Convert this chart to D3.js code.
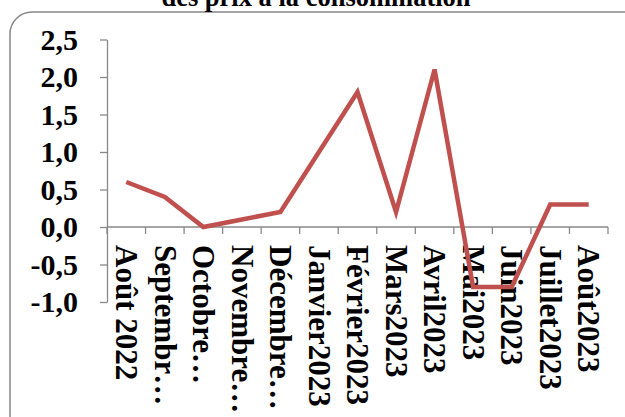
<!DOCTYPE html>
<html><head><meta charset="utf-8">
<script src="https://cdn.jsdelivr.net/npm/d3@7"></script>
<style>body{margin:0;background:#fff}svg{display:block}</style>
</head><body>
<script>
const categories = ["Août 2022","Septembr…","Octobre…","Novembre…","Décembre…","Janvier2023","Février2023","Mars2023","Avril2023","Mai2023","Juin2023","Juillet2023","Août2023"];
const values = [0.6,0.4,0.0,0.1,0.2,1.0,1.8,0.2,2.1,-0.8,-0.8,0.3,0.3];
const yTicks = [-1.0,-0.5,0.0,0.5,1.0,1.5,2.0,2.5];
const titleText = "des prix à la consommation";

(function(){
const W=625,H=417;
const svg=d3.select("body").append("svg").attr("width",W).attr("height",H);
const font="'Liberation Serif','Times New Roman',serif";

svg.append("rect").attr("x",10).attr("y",12).attr("width",660).attr("height",450)
  .attr("rx",22).attr("fill","none").attr("stroke","#888").attr("stroke-width",1.5);

svg.append("text").attr("x",316).attr("y",5.5).attr("text-anchor","middle")
  .attr("font-family",font).attr("font-weight","bold").attr("font-size",26.5).text(titleText);

const pL=107,pR=608,pT=39.5,pB=302;
const x=d3.scaleBand().domain(categories).range([pL,pR]);
const y=d3.scaleLinear().domain([-1,2.5]).range([pB,pT]);

// y axis
const ya=svg.append("g").attr("transform",`translate(${pL},0)`)
  .call(d3.axisLeft(y).tickValues(yTicks).tickSize(7).tickSizeOuter(0).tickPadding(22)
    .tickFormat(d=>d3.format(".1f")(d).replace(".",",").replace("−","-")));
ya.selectAll("path,line").attr("stroke","#888").attr("stroke-width",1.3);
ya.selectAll("text").attr("font-family",font).attr("font-weight","bold").attr("font-size",30).attr("fill","#000");

// x axis at y=0
const xa=svg.append("g").attr("transform",`translate(0,${y(0)})`);
xa.append("line").attr("x1",pL).attr("x2",pR).attr("stroke","#888").attr("stroke-width",1.3);
const bounds=categories.map(c=>x(c)).concat([pR]);
xa.selectAll("line.t").data(bounds).join("line").attr("class","t")
  .attr("x1",d=>d).attr("x2",d=>d).attr("y1",0).attr("y2",7).attr("stroke","#888").attr("stroke-width",1.3);
xa.selectAll("text").data(categories).join("text")
  .attr("transform",d=>`translate(${x(d)+x.bandwidth()/2},${18}) rotate(90)`)
  .attr("dy","0.33em").attr("text-anchor","start")
  .attr("font-family",font).attr("font-weight","bold").attr("font-size",31).attr("fill","#000")
  .text(d=>d);

// line
const line=d3.line().x((d,i)=>x(categories[i])+x.bandwidth()/2).y(d=>y(d));
svg.append("path").datum(values).attr("d",line).attr("fill","none")
  .attr("stroke","#C0504D").attr("stroke-width",4.5).attr("stroke-linejoin","miter");
})();
</script>
</body></html>
